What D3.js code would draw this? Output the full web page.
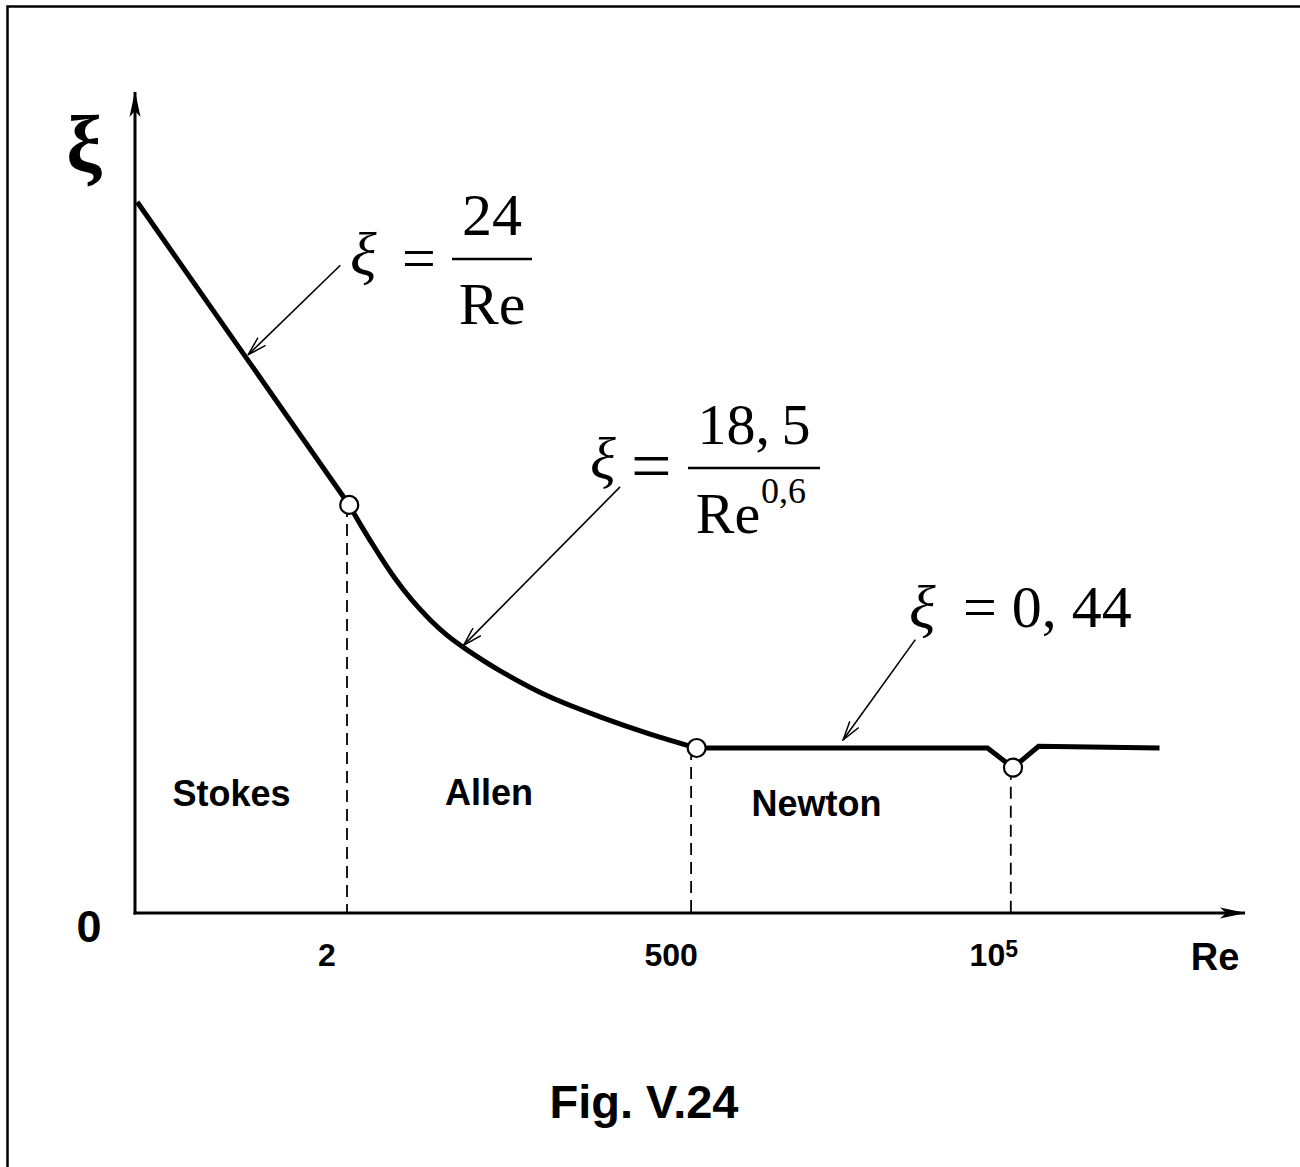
<!DOCTYPE html>
<html>
<head>
<meta charset="utf-8">
<script src="https://cdn.jsdelivr.net/npm/d3@7"></script>
<style>
body { margin: 0; background: #fff; overflow: hidden; }
svg { display: block; }
.serif { font-family: "Liberation Serif", "Times New Roman", serif; }
.sans { font-family: "Liberation Sans", Arial, sans-serif; font-weight: bold; }
</style>
</head>
<body>
<svg width="1300" height="1167"></svg>
<script>
// schematic units: Re position 0..100, xi 0..100
var stokes = [[0.2, 86.6], [19.3, 49.7]];
var allen = [[19.3, 49.7], [20.45, 47.0], [21.9, 43.85], [23.4, 40.8], [24.95, 38.1], [26.6, 35.7], [28.1, 33.85], [29.65, 32.3], [32.9, 29.5], [37.4, 26.3], [41.9, 23.9], [46.4, 21.8], [50.6, 20.1]];
var newton = [[50.6, 20.1], [76.8, 20.1], [79.1, 17.7], [81.4, 20.3], [92.3, 20.1]];
var nodes = [[19.3, 49.7], [50.6, 20.1], [79.1, 17.7]];
var dropRe = [19.1, 50.1, 78.9];
var dropXi = [49.7, 20.1, 17.7];
var tickLabels = ["2", "500", "10"];
var regions = ["Stokes", "Allen", "Newton"];
var regionPos = [[8.7, 13.0], [31.9, 13.1], [61.4, 11.8]];
var pointers = [[[18.5, 78.9], [10.2, 68.0]], [[43.7, 51.9], [29.6, 32.6]], [[70.3, 33.3], [63.8, 21.1]]];

var svg = d3.select("svg");

var x = d3.scaleLinear().domain([0, 100]).range([135, 1245]);
var y = d3.scaleLinear().domain([0, 100]).range([913, 92]);

// frame (right/bottom edges fall outside the picture)
svg.append("rect")
  .attr("x", 7.5).attr("y", 6.5)
  .attr("width", 1400).attr("height", 1300)
  .attr("fill", "none").attr("stroke", "#000").attr("stroke-width", 2.5);

var defs = svg.append("defs");
defs.append("marker")
  .attr("id", "open")
  .attr("viewBox", "0 0 20 12")
  .attr("refX", 19).attr("refY", 6)
  .attr("markerWidth", 20).attr("markerHeight", 12)
  .attr("markerUnits", "userSpaceOnUse")
  .attr("orient", "auto")
  .append("path")
  .attr("d", "M0,0.5 L19,6 L0,11.5")
  .attr("fill", "none").attr("stroke", "#000").attr("stroke-width", 1.5);

defs.append("marker")
  .attr("id", "axisHead")
  .attr("viewBox", "0 0 26 12")
  .attr("refX", 25).attr("refY", 6)
  .attr("markerWidth", 26).attr("markerHeight", 12)
  .attr("markerUnits", "userSpaceOnUse")
  .attr("orient", "auto")
  .append("path")
  .attr("d", "M0,0.5 L26,6 L0,11.5 L6,6 Z")
  .attr("fill", "#000");

// axes
svg.append("line")
  .attr("x1", x(0)).attr("y1", y(0) + 1.5)
  .attr("x2", x(0)).attr("y2", y(100))
  .attr("stroke", "#000").attr("stroke-width", 3)
  .attr("marker-end", "url(#axisHead)");
svg.append("line")
  .attr("x1", x(0) - 1.5).attr("y1", y(0))
  .attr("x2", x(100)).attr("y2", y(0))
  .attr("stroke", "#000").attr("stroke-width", 3)
  .attr("marker-end", "url(#axisHead)");

// dashed drop lines
svg.selectAll(".drop")
  .data(dropRe)
  .enter().append("line")
  .attr("class", "drop")
  .attr("x1", function(d) { return x(d); })
  .attr("x2", function(d) { return x(d); })
  .attr("y1", function(d, i) { return y(dropXi[i]); })
  .attr("y2", y(0))
  .attr("stroke", "#000").attr("stroke-width", 1.8)
  .attr("stroke-dasharray", "12,7");

// curve
var straight = d3.line().x(function(d) { return x(d[0]); }).y(function(d) { return y(d[1]); });
var smooth = d3.line().x(function(d) { return x(d[0]); }).y(function(d) { return y(d[1]); }).curve(d3.curveCatmullRom);

svg.append("path").datum(stokes).attr("d", straight)
  .attr("fill", "none").attr("stroke", "#000").attr("stroke-width", 5);
svg.append("path").datum(allen).attr("d", smooth)
  .attr("fill", "none").attr("stroke", "#000").attr("stroke-width", 5);
svg.append("path").datum(newton).attr("d", straight)
  .attr("fill", "none").attr("stroke", "#000").attr("stroke-width", 5)
  .attr("stroke-linejoin", "miter");

svg.selectAll(".node")
  .data(nodes)
  .enter().append("circle")
  .attr("class", "node")
  .attr("cx", function(d) { return x(d[0]); })
  .attr("cy", function(d) { return y(d[1]); })
  .attr("r", 9)
  .attr("fill", "#fff").attr("stroke", "#000").attr("stroke-width", 2.2);

// pointer arrows
svg.selectAll(".pointer")
  .data(pointers)
  .enter().append("line")
  .attr("class", "pointer")
  .attr("x1", function(d) { return x(d[0][0]); })
  .attr("y1", function(d) { return y(d[0][1]); })
  .attr("x2", function(d) { return x(d[1][0]); })
  .attr("y2", function(d) { return y(d[1][1]); })
  .attr("stroke", "#000").attr("stroke-width", 1.6)
  .attr("marker-end", "url(#open)");

// axis labels
svg.append("text").attr("class", "serif")
  .attr("x", 84).attr("y", 172).attr("text-anchor", "middle")
  .attr("font-size", 80).attr("font-weight", "bold").text("ξ");

svg.append("text").attr("class", "sans")
  .attr("x", 89).attr("y", 942).attr("text-anchor", "middle")
  .attr("font-size", 45).text("0");

svg.append("text").attr("class", "sans")
  .attr("x", 1215).attr("y", 970).attr("text-anchor", "middle")
  .attr("font-size", 38).text("Re");

var ticks = svg.selectAll(".tick")
  .data(dropRe)
  .enter().append("text")
  .attr("class", "sans tick")
  .attr("x", function(d, i) { return x(d) - (i === 2 ? 17 : 20); })
  .attr("y", 966)
  .attr("text-anchor", "middle")
  .attr("font-size", 32)
  .text(function(d, i) { return tickLabels[i]; });
ticks.filter(function(d, i) { return i === 2; })
  .append("tspan").attr("dy", -9).attr("font-size", 23).text("5");

svg.selectAll(".region")
  .data(regions)
  .enter().append("text")
  .attr("class", "sans region")
  .attr("x", function(d, i) { return x(regionPos[i][0]); })
  .attr("y", function(d, i) { return y(regionPos[i][1]); })
  .attr("text-anchor", "middle")
  .attr("font-size", 36)
  .text(function(d) { return d; });

svg.append("text").attr("class", "sans")
  .attr("x", 644).attr("y", 1118).attr("text-anchor", "middle")
  .attr("font-size", 47).text("Fig. V.24");

// formulas
function fraction(g, cx, barY, halfW, num, den, size) {
  g.append("line").attr("x1", cx - halfW).attr("x2", cx + halfW)
    .attr("y1", barY).attr("y2", barY).attr("stroke", "#000").attr("stroke-width", 2.5);
  g.append("text").attr("class", "serif").attr("x", cx).attr("y", barY - 24)
    .attr("text-anchor", "middle").attr("font-size", size).text(num);
  return g.append("text").attr("class", "serif").attr("x", cx).attr("y", barY + 65)
    .attr("text-anchor", "middle").attr("font-size", size).text(den);
}

var f1 = svg.append("g");
f1.append("text").attr("class", "serif").attr("x", 350).attr("y", 275)
  .attr("font-size", 62).attr("font-style", "italic").text("ξ");
f1.append("text").attr("class", "serif").attr("x", 402).attr("y", 278)
  .attr("font-size", 60).text("=");
fraction(f1, 492, 259, 40, "24", "Re", 60);

var f2 = svg.append("g");
f2.append("text").attr("class", "serif").attr("x", 590).attr("y", 479)
  .attr("font-size", 60).attr("font-style", "italic").text("ξ");
f2.append("text").attr("class", "serif").attr("x", 631).attr("y", 490)
  .attr("font-size", 72).text("=");
var den2 = fraction(f2, 754, 468, 66, "18,\u20095", "Re", 58);
den2.attr("x", 728);
f2.append("text").attr("class", "serif").attr("x", 761).attr("y", 503)
  .attr("font-size", 36).text("0,6");

var f3 = svg.append("g");
f3.append("text").attr("class", "serif").attr("x", 909).attr("y", 628)
  .attr("font-size", 62).attr("font-style", "italic").text("ξ");
f3.append("text").attr("class", "serif").attr("x", 963).attr("y", 627)
  .attr("font-size", 60).text("= 0, 44");
</script>
</body>
</html>
